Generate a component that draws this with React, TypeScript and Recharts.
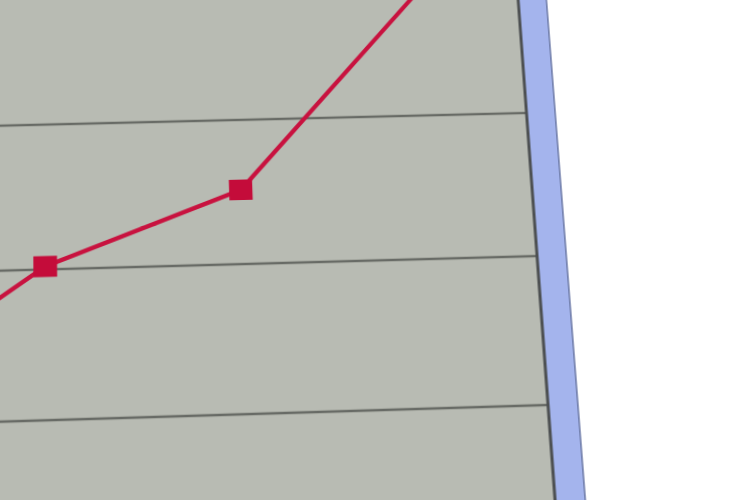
import { LineChart, Line, XAxis, YAxis, CartesianGrid, ReferenceLine, ReferenceArea } from 'recharts';

// values (grid step = 10)
const xValues = [1, 2, 3, 4];
const seriesValues = [11.3, 20.2, 25.1, 39.4];
const yTicks = [10, 20, 30];

const data = xValues.map((x, i) => ({ x, value: seriesValues[i] }));

// the photo looks at the screen at a slight angle, so the flat chart is
// projected with a homography fitted to the grid corners
const PERSPECTIVE =
  'matrix3d(1.012389, -0.021731, 0, 0.00002176, 0, 0.943365, 0, -0.0001343, 0, 0, 1, 0, 0, 125.7, 0, 1)';

function SquareDot(props: any) {
  const { cx, cy, index } = props;
  if (cx == null || cy == null) return null;
  return <rect key={`dot-${index}`} x={cx - 11.5} y={cy - 10.5} width={23} height={21} fill="#c40c3a" />;
}

export default function App() {
  return (
    <div
      style={{
        position: 'fixed',
        left: 0,
        top: 0,
        width: 750,
        height: 500,
        overflow: 'hidden',
        background: '#ffffff',
      }}
    >
      <div style={{ position: 'absolute', left: 0, top: 0, width: 0, height: 0, transformOrigin: '0 0', transform: PERSPECTIVE }}>
        <div style={{ position: 'absolute', left: -14.3, top: -148 }}>
          <LineChart width={574} height={547.6} data={data} margin={{ top: 0, right: 34, bottom: 0, left: 0 }}>
            <CartesianGrid vertical={false} fill="#b8bbb3" stroke="#686b66" strokeWidth={2.6} />
            <XAxis dataKey="x" type="number" domain={[1.7, 4.5]} allowDataOverflow hide />
            <YAxis type="number" domain={[3, 40]} ticks={yTicks} allowDataOverflow hide />
            <ReferenceArea x1={4.5} x2={4.65} ifOverflow="visible" fill="#a4b4ed" fillOpacity={1} stroke="none" />
            <ReferenceLine x={4.5} stroke="#4d5052" strokeWidth={3} />
            <ReferenceLine x={4.65} ifOverflow="visible" stroke="#6b78a6" strokeWidth={1.5} />
            <Line
              type="linear"
              dataKey="value"
              stroke="#c8123f"
              strokeWidth={4.4}
              dot={SquareDot}
              activeDot={false}
              isAnimationActive={false}
            />
          </LineChart>
        </div>
      </div>
    </div>
  );
}
